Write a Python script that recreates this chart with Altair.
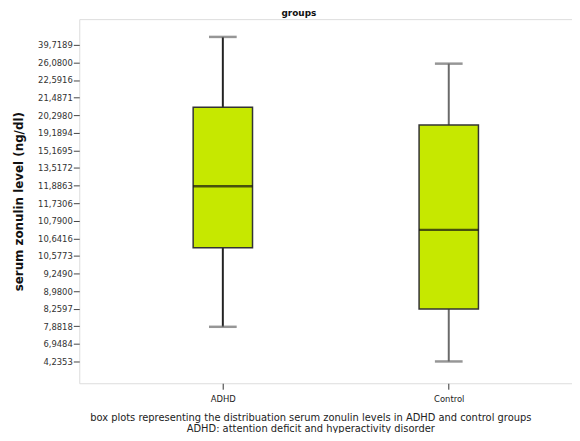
import altair as alt
import pandas as pd

# ---- data (y values in axis-position units; tick k = k-th label from bottom)
groups = ["ADHD", "Control"]
group_pos = [0, 1]
whisker_low = [1.97, 0.0]
q1 = [6.47, 2.98]
median = [9.96, 7.48]
q3 = [14.45, 13.44]
whisker_high = [18.45, 16.93]

tick_labels = ["4,2353", "6,9484", "7,8818", "8,2597", "8,9800", "9,2490",
               "10,5773", "10,6416", "10,7900", "11,7306", "11,8863",
               "13,5172", "15,1695", "19,1894", "20,2980", "21,4871",
               "22,5916", "26,0800", "39,7189"]

caption = ["box plots representing the distribuation serum zonulin levels in ADHD and control groups",
           "ADHD: attention deficit and hyperactivity disorder"]

df = pd.DataFrame({"group": groups, "pos": group_pos, "low": whisker_low, "q1": q1,
                   "median": median, "q3": q3, "high": whisker_high})

FONT = "DejaVu Sans"
ylab_expr = "[" + ",".join("'%s'" % t for t in tick_labels) + "][datum.value]"
xlab_expr = "[" + ",".join("'%s'" % g for g in groups) + "][datum.value]"

x = alt.X("pos:Q", scale=alt.Scale(domain=[-0.6137, 1.5236], nice=False, zero=False),
          axis=alt.Axis(values=group_pos, labelExpr=xlab_expr, title=None, grid=False,
                        domain=False, tickSize=6, tickColor="#333", labelFontSize=8.5,
                        labelColor="#222", labelPadding=5, labelFont=FONT, labelOverlap=False))
yscale = alt.Scale(domain=[-1.24, 19.46], nice=False, zero=False)
y_axis = alt.Axis(values=list(range(len(tick_labels))), labelExpr=ylab_expr,
                  title="serum zonulin level (ng/dl)", titleFontSize=12, titleFontWeight="bold",
                  titleFont=FONT, titleColor="#111", titlePadding=12,
                  grid=False, domain=False, tickSize=6, tickColor="#444",
                  labelFontSize=8.5, labelColor="#333", labelPadding=1, labelFont=FONT,
                  labelOverlap=False, labelBound=False)


def Y(field):
    return alt.Y(field, type="quantitative", scale=yscale, axis=y_axis)


wcolor = alt.Color("group:N", scale=alt.Scale(domain=groups, range=["#222222", "#6a6a6a"]), legend=None)

base = alt.Chart(df)
wh_low = base.mark_rule(strokeWidth=2).encode(x=x, y=Y("low"), y2="q1:Q", color=wcolor)
wh_high = base.mark_rule(strokeWidth=2).encode(x=x, y=Y("q3"), y2="high:Q", color=wcolor)
cap_low = base.mark_tick(orient="horizontal", size=28, thickness=2.5, color="#6a6a6a").encode(x=x, y=Y("low"))
cap_high = base.mark_tick(orient="horizontal", size=28, thickness=2.5, color="#6a6a6a").encode(x=x, y=Y("high"))
box = base.mark_bar(size=60, fill="#c6e800", stroke="#333", strokeWidth=1.5).encode(x=x, y=Y("q1"), y2="q3:Q")
med = base.mark_tick(orient="horizontal", size=60, thickness=2.5, color="#111").encode(x=x, y=Y("median"))

top = alt.Chart(pd.DataFrame({"t": ["groups"]})).mark_text(
    font=FONT, fontSize=9, fontWeight="bold", color="#111", baseline="alphabetic"
).encode(text="t:N", x=alt.value(222), y=alt.value(-3))

chart = alt.layer(wh_low, wh_high, cap_low, cap_high, box, med, top).properties(
    width=498, height=368,
    autosize=alt.AutoSizeParams(type="none"),
    padding={"left": 72, "top": 9, "right": 0, "bottom": 48},
    title=alt.TitleParams(text=caption, orient="bottom", anchor="middle", dx=-15, offset=11,
                          fontSize=10, fontWeight="normal", font=FONT, color="#222", lineHeight=10.5),
).configure_view(stroke="#555", strokeWidth=2).configure(background="white")

chart.save("out.html", embed_options={"renderer": "svg", "actions": False})
